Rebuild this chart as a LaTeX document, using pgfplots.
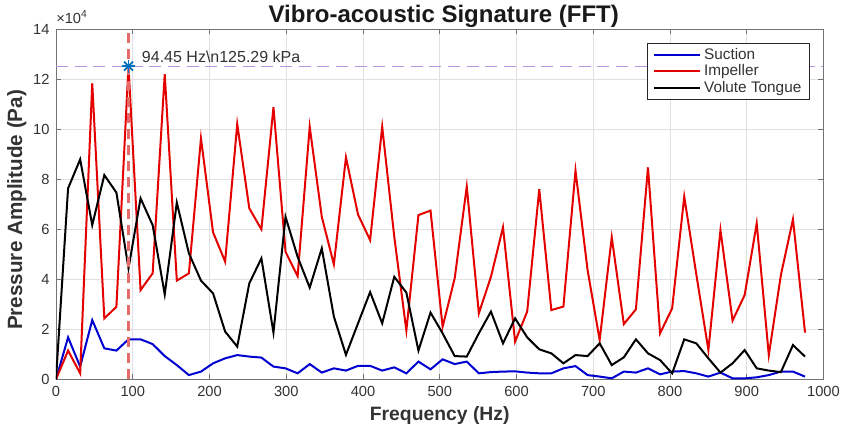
\documentclass[border=0pt]{standalone}
\usepackage{pgfplots}
\pgfplotsset{compat=1.18}
\usepackage{pgfplotstable}
\usepackage{fontspec}
\setmainfont{Liberation Sans}
\definecolor{sucblue}{rgb}{0,0,0.82}
\definecolor{impred}{rgb}{0.9,0,0}
\definecolor{dashred}{rgb}{0.9,0.42,0.42}
\definecolor{lav}{rgb}{0.72,0.58,0.88}
\definecolor{starblue}{rgb}{0,0.447,0.741}
\definecolor{axgray}{rgb}{0.45,0.45,0.45}
\definecolor{txtgray}{rgb}{0.2,0.2,0.2}

\pgfplotstableread{
x S I V
0 0 0 0
15.74 1.68 1.15 7.64
31.48 0.51 0.24 8.80
47.23 2.37 11.84 6.17
62.97 1.24 2.44 8.17
78.71 1.15 2.90 7.47
94.45 1.60 12.529 4.44
110.19 1.60 3.57 7.24
125.93 1.41 4.24 6.17
141.68 0.93 12.21 3.40
157.42 0.57 3.95 7.07
173.16 0.17 4.24 5.04
188.90 0.31 9.64 3.95
204.64 0.64 5.88 3.44
220.38 0.84 4.71 1.91
236.13 0.97 10.21 1.31
251.87 0.91 6.84 3.84
267.61 0.87 6.00 4.84
283.35 0.51 10.88 1.87
299.09 0.44 5.10 6.50
314.83 0.24 4.13 4.90
330.58 0.61 10.10 3.67
346.32 0.27 6.50 5.24
362.06 0.44 4.60 2.51
377.80 0.35 8.88 0.98
393.54 0.54 6.59 2.24
409.28 0.54 5.57 3.49
425.03 0.35 10.10 2.24
440.77 0.48 5.70 4.10
456.51 0.24 1.95 3.47
472.25 0.71 6.57 1.15
487.99 0.40 6.75 2.67
503.73 0.80 2.10 1.84
519.48 0.61 4.04 0.93
535.22 0.71 7.71 0.91
550.96 0.24 2.64 1.84
566.70 0.29 4.10 2.71
582.44 0.31 6.08 1.44
598.18 0.32 1.51 2.44
613.93 0.27 2.71 1.68
629.67 0.24 7.60 1.20
645.41 0.24 2.77 1.04
661.15 0.44 2.91 0.64
676.89 0.53 8.35 0.97
692.63 0.17 4.37 0.93
708.38 0.11 1.57 1.44
724.12 0.04 5.68 0.57
739.86 0.31 2.21 0.88
755.60 0.27 2.80 1.60
771.34 0.44 8.48 1.04
787.08 0.20 1.84 0.77
802.83 0.31 2.84 0.24
818.57 0.33 7.31 1.60
834.31 0.24 4.20 1.44
850.05 0.11 1.17 0.84
865.79 0.27 5.97 0.27
881.53 0.04 2.35 0.64
897.28 0.04 3.37 1.17
913.02 0.08 6.24 0.44
928.76 0.17 0.97 0.35
944.50 0.31 4.17 0.29
960.24 0.31 6.40 1.37
975.98 0.11 1.87 0.91
}\fftdata

\begin{document}
\begin{tikzpicture}
\begin{axis}[
  width=575.6pt, height=262.5pt, scale only axis,
  xmin=0, xmax=1000, ymin=0, ymax=14,
  xtick={0,100,...,1000}, ytick={0,2,...,14},
  grid=major,
  major grid style={color=black!12, line width=0.5pt},
  axis line style={color=axgray, line width=0.6pt},
  tick style={color=axgray, line width=0.6pt},
  tick align=inside, major tick length=3.75pt,
  xtick pos=both, ytick pos=both,
  xticklabel pos=bottom, yticklabel pos=left,
  /pgf/number format/assume math mode=true,
  /pgf/number format/1000 sep={},
  ticklabel style={font=\fontsize{11}{13}\selectfont, text=txtgray},
  xticklabel style={yshift=-1.5pt},
  yticklabel style={xshift=-1.3pt},
  xlabel={Frequency (Hz)},
  xlabel style={at={(axis description cs:0.5,-0.1163)}, anchor=base, font=\bfseries\fontsize{14.5}{16}\selectfont, text=txtgray},
  ylabel={Pressure Amplitude (Pa)},
  ylabel style={at={(axis description cs:-0.0512,0.484)}, anchor=center, font=\bfseries\fontsize{15.5}{17}\selectfont, text=txtgray},
  legend style={at={(axis description cs:0.982,0.961)}, anchor=north east,
    draw=black!85, line width=0.5pt, fill=white,
    font=\fontsize{11.5}{13.5}\selectfont, text=txtgray,
    inner xsep=4pt, inner ysep=1.5pt, row sep=-1.2pt,
    cells={anchor=west}},
  legend image code/.code={\draw[#1] (0pt,0pt) -- (35pt,0pt);},
]
\addplot[color=sucblue, line width=1.5pt] table[x=x, y=S] {\fftdata};
\addlegendentry{Suction}
\addplot[color=impred, line width=1.5pt] table[x=x, y=I] {\fftdata};
\addlegendentry{Impeller}
\addplot[color=black, line width=1.5pt] table[x=x, y=V] {\fftdata};
\addlegendentry{Volute Tongue}
\addplot[color=dashred, line width=1.8pt, dash pattern=on 8pt off 4pt, forget plot] coordinates {(94.45,0) (94.45,14)};
\addplot[color=lav, line width=0.7pt, dash pattern=on 9pt off 5pt, forget plot] coordinates {(0,12.529) (1000,12.529)};
\addplot[only marks, mark=+, mark size=4.8pt, color=starblue, line width=1.4pt, forget plot] coordinates {(94.45,12.529)};
\addplot[only marks, mark=x, mark size=4.8pt, color=starblue, line width=1.4pt, forget plot] coordinates {(94.45,12.529)};
\node[anchor=west, inner sep=0pt, font=\fontsize{12}{14}\selectfont, text=txtgray] at (axis cs:111.7,12.9) {94.45 Hz\textbackslash n125.29 kPa};
\end{axis}
\node[anchor=base, inner sep=0pt, font=\bfseries\fontsize{18}{20}\selectfont, text=black!90] at ([xshift=3pt,yshift=5pt]current axis.north) {Vibro-acoustic Signature (FFT)};
\node[anchor=base west, inner sep=0pt, font=\fontsize{11}{13}\selectfont, text=txtgray] at ([yshift=4.7pt]current axis.north west) {×10\textsuperscript{4}};
\pgfresetboundingbox
\path[use as bounding box] ([xshift=-42pt,yshift=-36.5pt]current axis.south west) rectangle ([xshift=15.4pt,yshift=22pt]current axis.north east);
\end{tikzpicture}
\end{document}
